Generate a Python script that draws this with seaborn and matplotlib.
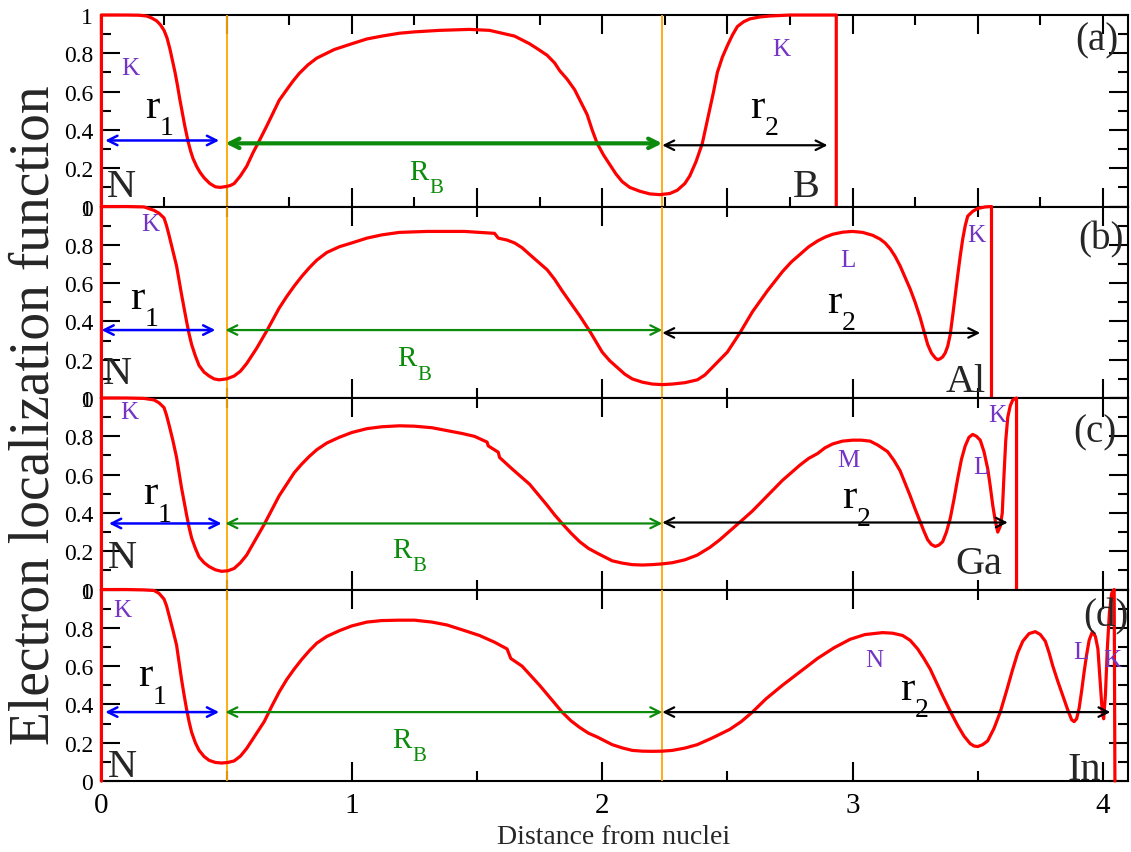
import matplotlib
matplotlib.use("Agg")
import matplotlib.pyplot as plt
from matplotlib.ticker import MultipleLocator, FuncFormatter
import pandas as pd
import seaborn as sns

# ---------------------------------------------------------------- data
# Electron localization function along the bond, nitrogen at r = 0
elf_r_BN = [0.0, 0.0, 0.10, 0.15, 0.18, 0.20, 0.22, 0.235, 0.25, 0.262, 0.274, 0.284, 0.294,
            0.304, 0.313, 0.323, 0.333, 0.346, 0.356, 0.366, 0.38, 0.393, 0.41, 0.433, 0.455,
            0.475, 0.50, 0.515, 0.53, 0.555, 0.58, 0.605, 0.633, 0.66, 0.686, 0.71, 0.74, 0.765,
            0.79, 0.825, 0.86, 0.93, 1.0, 1.06, 1.12, 1.19, 1.25, 1.35, 1.47, 1.55, 1.60, 1.65,
            1.68, 1.71, 1.74, 1.78, 1.81, 1.83, 1.86, 1.89, 1.915, 1.94, 1.96, 1.98, 2.005, 2.03,
            2.055, 2.08, 2.11, 2.15, 2.19, 2.23, 2.27, 2.30, 2.33, 2.35, 2.375, 2.40, 2.415, 2.43,
            2.445, 2.46, 2.48, 2.50, 2.52, 2.54, 2.565, 2.59, 2.63, 2.67, 2.75, 2.935, 2.935]
elf_BN = [0.0, 1.0, 1.0, 0.999, 0.995, 0.985, 0.97, 0.95, 0.92, 0.88, 0.82, 0.76, 0.70,
          0.63, 0.56, 0.49, 0.42, 0.34, 0.29, 0.25, 0.21, 0.18, 0.15, 0.12, 0.103,
          0.10, 0.105, 0.11, 0.12, 0.16, 0.21, 0.28, 0.35, 0.42, 0.49, 0.555, 0.61, 0.655,
          0.695, 0.74, 0.775, 0.82, 0.85, 0.875, 0.89, 0.905, 0.912, 0.92, 0.925, 0.92, 0.905, 0.89,
          0.87, 0.85, 0.825, 0.79, 0.75, 0.71, 0.665, 0.61, 0.545, 0.48, 0.40, 0.33, 0.27, 0.22,
          0.17, 0.13, 0.10, 0.08, 0.066, 0.062, 0.068, 0.085, 0.12, 0.16, 0.235, 0.33, 0.42, 0.51,
          0.60, 0.70, 0.78, 0.84, 0.895, 0.94, 0.965, 0.98, 0.99, 0.995, 1.0, 1.0, 0.0]

elf_r_AlN = [0.0, 0.0, 0.10, 0.17, 0.21, 0.23, 0.25, 0.26, 0.27, 0.285, 0.30, 0.31, 0.32, 0.33,
             0.34, 0.35, 0.36, 0.375, 0.39, 0.41, 0.43, 0.45, 0.47, 0.50, 0.53, 0.555, 0.58, 0.62,
             0.66, 0.685, 0.71, 0.74, 0.77, 0.80, 0.83, 0.86, 0.90, 0.95, 1.0, 1.06, 1.12, 1.19,
             1.30, 1.45, 1.57, 1.585, 1.62, 1.65, 1.68, 1.71, 1.745, 1.78, 1.81, 1.84, 1.875, 1.91,
             1.95, 1.975, 2.00, 2.03, 2.06, 2.09, 2.12, 2.16, 2.20, 2.24, 2.28, 2.33, 2.38, 2.41,
             2.44, 2.47, 2.50, 2.525, 2.55, 2.575, 2.60, 2.63, 2.66, 2.69, 2.72, 2.755, 2.79,
             2.825, 2.86, 2.89, 2.92, 2.96, 3.00, 3.04, 3.08, 3.11, 3.13, 3.15, 3.17, 3.19, 3.21,
             3.23, 3.25, 3.27, 3.285, 3.30, 3.315, 3.33, 3.34, 3.35, 3.36, 3.37, 3.38, 3.39, 3.40,
             3.41, 3.42, 3.43, 3.44, 3.45, 3.46, 3.48, 3.50, 3.53, 3.555, 3.555]
elf_AlN = [0.0, 1.0, 1.0, 0.998, 0.98, 0.965, 0.94, 0.90, 0.85, 0.77, 0.69, 0.615, 0.54, 0.47,
           0.40, 0.335, 0.28, 0.22, 0.17, 0.135, 0.115, 0.10, 0.095, 0.10, 0.115, 0.14, 0.18, 0.26,
           0.35, 0.41, 0.47, 0.53, 0.585, 0.635, 0.68, 0.72, 0.76, 0.79, 0.81, 0.835, 0.852, 0.865,
           0.87, 0.87, 0.86, 0.835, 0.825, 0.81, 0.785, 0.75, 0.71, 0.67, 0.62, 0.56, 0.495, 0.43,
           0.35, 0.295, 0.24, 0.195, 0.16, 0.125, 0.10, 0.083, 0.073, 0.07, 0.073, 0.08, 0.095,
           0.12, 0.16, 0.20, 0.24, 0.29, 0.34, 0.395, 0.45, 0.505, 0.56, 0.61, 0.66, 0.71, 0.75,
           0.79, 0.82, 0.84, 0.855, 0.866, 0.87, 0.865, 0.85, 0.83, 0.81, 0.78, 0.74, 0.69, 0.63,
           0.57, 0.50, 0.42, 0.35, 0.28, 0.235, 0.21, 0.20, 0.205, 0.215, 0.235, 0.27, 0.33, 0.43,
           0.535, 0.64, 0.74, 0.83, 0.90, 0.95, 0.975, 0.99, 0.998, 1.0, 0.0]

elf_r_GaN = [0.0, 0.0, 0.10, 0.17, 0.21, 0.23, 0.25, 0.26, 0.27, 0.285, 0.30, 0.31, 0.32, 0.33,
             0.34, 0.35, 0.36, 0.375, 0.39, 0.41, 0.43, 0.455, 0.48, 0.505, 0.53, 0.555, 0.58,
             0.615, 0.65, 0.68, 0.71, 0.74, 0.77, 0.80, 0.83, 0.86, 0.90, 0.95, 1.0, 1.06, 1.12,
             1.19, 1.25, 1.32, 1.38, 1.44, 1.49, 1.54, 1.545, 1.585, 1.59, 1.615, 1.64, 1.675,
             1.71, 1.745, 1.78, 1.81, 1.84, 1.875, 1.91, 1.945, 1.98, 2.01, 2.04, 2.08, 2.12, 2.16,
             2.20, 2.24, 2.28, 2.33, 2.38, 2.43, 2.47, 2.505, 2.54, 2.57, 2.60, 2.63, 2.66, 2.69,
             2.72, 2.755, 2.79, 2.825, 2.86, 2.89, 2.92, 2.96, 3.00, 3.035, 3.07, 3.10, 3.14, 3.165,
             3.19, 3.21, 3.23, 3.25, 3.27, 3.285, 3.30, 3.315, 3.33, 3.345, 3.36, 3.375, 3.39,
             3.405, 3.42, 3.435, 3.45, 3.465, 3.48, 3.495, 3.51, 3.525, 3.54, 3.55, 3.56, 3.57,
             3.58, 3.59, 3.598, 3.605, 3.612, 3.62, 3.63, 3.64, 3.655, 3.655]
elf_GaN = [0.0, 1.0, 1.0, 0.998, 0.99, 0.975, 0.95, 0.91, 0.86, 0.78, 0.69, 0.61, 0.53, 0.46,
           0.39, 0.325, 0.27, 0.215, 0.17, 0.14, 0.12, 0.103, 0.095, 0.098, 0.11, 0.14, 0.18,
           0.26, 0.34, 0.415, 0.49, 0.55, 0.61, 0.655, 0.695, 0.73, 0.765, 0.795, 0.82, 0.84, 0.85,
           0.855, 0.853, 0.845, 0.83, 0.815, 0.80, 0.77, 0.75, 0.717, 0.69, 0.66, 0.63, 0.59,
           0.55, 0.495, 0.44, 0.39, 0.345, 0.295, 0.25, 0.215, 0.19, 0.17, 0.15, 0.138, 0.13, 0.128,
           0.13, 0.134, 0.14, 0.155, 0.18, 0.22, 0.26, 0.30, 0.34, 0.375, 0.41, 0.45, 0.49, 0.53,
           0.57, 0.61, 0.65, 0.685, 0.71, 0.74, 0.76, 0.775, 0.78, 0.78, 0.775, 0.755, 0.72, 0.675,
           0.62, 0.555, 0.49, 0.42, 0.355, 0.305, 0.26, 0.235, 0.225, 0.232, 0.25, 0.30, 0.37,
           0.47, 0.58, 0.68, 0.75, 0.795, 0.81, 0.80, 0.78, 0.72, 0.63, 0.54, 0.44, 0.36,
           0.30, 0.33, 0.40, 0.60, 0.78, 0.90, 0.96, 0.99, 1.0, 0.0]

elf_r_InN = [0.0, 0.0, 0.10, 0.17, 0.21, 0.23, 0.25, 0.26, 0.27, 0.285, 0.30, 0.31, 0.32, 0.33,
             0.34, 0.35, 0.36, 0.375, 0.39, 0.41, 0.43, 0.455, 0.48, 0.505, 0.53, 0.555, 0.58,
             0.615, 0.65, 0.68, 0.71, 0.74, 0.77, 0.80, 0.83, 0.86, 0.90, 0.95, 1.0, 1.06, 1.12,
             1.19, 1.25, 1.32, 1.38, 1.44, 1.51, 1.57, 1.62, 1.635, 1.68, 1.715, 1.75, 1.795, 1.84,
             1.875, 1.91, 1.945, 1.98, 2.01, 2.04, 2.08, 2.12, 2.16, 2.20, 2.24, 2.28, 2.33, 2.38,
             2.44, 2.51, 2.555, 2.60, 2.655, 2.72, 2.79, 2.86, 2.925, 2.99, 3.05, 3.12, 3.16, 3.20,
             3.23, 3.26, 3.285, 3.31, 3.335, 3.36, 3.39, 3.42, 3.445, 3.47, 3.485, 3.50, 3.52, 3.54,
             3.565, 3.59, 3.615, 3.64, 3.66, 3.68, 3.705, 3.73, 3.75, 3.77, 3.785, 3.80, 3.82, 3.84,
             3.86, 3.875, 3.885, 3.895, 3.905, 3.915, 3.925, 3.935, 3.945, 3.958, 3.97, 3.98, 3.99,
             3.998, 4.003, 4.01, 4.018, 4.026, 4.035, 4.045, 4.048]
elf_InN = [0.0, 1.0, 1.0, 0.998, 0.995, 0.98, 0.95, 0.915, 0.865, 0.79, 0.71, 0.62, 0.53, 0.45,
           0.375, 0.31, 0.255, 0.20, 0.16, 0.128, 0.108, 0.097, 0.094, 0.097, 0.105, 0.13, 0.17,
           0.24, 0.31, 0.39, 0.465, 0.53, 0.585, 0.635, 0.68, 0.72, 0.755, 0.785, 0.81, 0.83, 0.838,
           0.84, 0.84, 0.83, 0.815, 0.79, 0.76, 0.725, 0.69, 0.64, 0.60, 0.55, 0.50, 0.43, 0.36,
           0.315, 0.28, 0.25, 0.23, 0.21, 0.19, 0.173, 0.16, 0.156, 0.155, 0.156, 0.16, 0.172, 0.19,
           0.225, 0.27, 0.31, 0.36, 0.43, 0.50, 0.57, 0.64, 0.695, 0.74, 0.765, 0.775, 0.772, 0.76,
           0.735, 0.69, 0.64, 0.585, 0.515, 0.445, 0.365, 0.29, 0.235, 0.195, 0.183, 0.18, 0.19,
           0.21, 0.275, 0.36, 0.47, 0.585, 0.67, 0.73, 0.77, 0.78, 0.765, 0.73, 0.67, 0.60, 0.52,
           0.445, 0.37, 0.32, 0.31, 0.325, 0.38, 0.47, 0.57, 0.66, 0.735, 0.78, 0.755, 0.69, 0.50,
           0.35, 0.325, 0.45, 0.70, 0.88, 0.98, 1.0, 0.0]

curves = [(elf_r_BN, elf_BN), (elf_r_AlN, elf_AlN), (elf_r_GaN, elf_GaN), (elf_r_InN, elf_InN)]

# bond boundaries (N core radius, B-N bond end) and radial extents
r1_start = [0.015, 0.0, 0.03, 0.015]
r1_end = [0.47, 0.455, 0.48, 0.47]
bond_start = 0.5
bond_end = 2.24
r2_end = [2.90, 3.51, 3.62, 4.03]

panel_tags = ["(a)", "(b)", "(c)", "(d)"]
cations = ["B", "Al", "Ga", "In"]

# ---------------------------------------------------------------- layout / styling
blue_y = [0.345, 0.355, 0.345, 0.36]
green_y = [0.33, 0.355, 0.345, 0.36]
black_y = [0.32, 0.34, 0.35, 0.36]
green_lw = [3.0, 1.6, 1.6, 1.6]

PURPLE = "#7434c4"
GREEN = "#0b8a0b"

# shell labels anchored at left / baseline
shell_labels = [
    [("K", 0.08, 0.69), ("K", 2.68, 0.79)],
    [("K", 0.16, 0.875), ("L", 2.95, 0.69), ("K", 3.46, 0.82)],
    [("K", 0.074, 0.895), ("M", 2.94, 0.645), ("L", 3.48, 0.61), ("K", 3.54, 0.88)],
    [("K", 0.047, 0.864), ("N", 3.05, 0.60), ("L", 3.88, 0.64), ("K", 4.00, 0.60)],
]
n_pos = [(0.022, 0.057), (0.007, 0.078), (0.027, 0.12), (0.027, 0.026)]
r1_pos = [(0.175, 0.47), (0.115, 0.47), (0.167, 0.45), (0.147, 0.50)]
rb_pos = [(1.23, 0.146), (1.18, 0.17), (1.16, 0.17), (1.16, 0.18)]
r2_pos = [(2.59, 0.47), (2.90, 0.45), (2.96, 0.43), (3.19, 0.43)]
cation_pos = [(2.76, 0.057), (3.37, 0.036), (3.41, 0.084), (3.86, 0.01)]
tag_pos = [(3.89, 0.82), (3.90, 0.78), (3.88, 0.775), (3.92, 0.81)]

sns.set_theme(style="ticks")
plt.rcParams.update({
    "font.family": ["Liberation Serif", "DejaVu Serif"],
    "axes.linewidth": 1.5,
    "axes.edgecolor": "black",
    "xtick.color": "black",
    "ytick.color": "black",
    "axes.facecolor": "white",
})

fig, axes = plt.subplots(4, 1, figsize=(11.31, 8.53), dpi=100)
fig.subplots_adjust(left=0.0897, right=0.9973, top=0.9812, bottom=0.0832, hspace=0)


def arrow(ax, x0, x1, y, color, lw):
    ax.annotate("", xy=(x1, y), xytext=(x0, y),
                arrowprops=dict(arrowstyle="<->", color=color, lw=lw,
                                shrinkA=0, shrinkB=0, mutation_scale=17),
                zorder=5)


def subscripted(ax, pos, main, sub, size, sub_size, dx, dy, color="black"):
    ax.text(pos[0], pos[1], main, fontsize=size, color=color,
            ha="left", va="baseline", zorder=6)
    ax.annotate(sub, xy=pos, xytext=(dx, dy), textcoords="offset points",
                fontsize=sub_size, color=color, ha="left", va="baseline", zorder=6)


for i, ax in enumerate(axes):
    xs, ys = curves[i]
    df = pd.DataFrame({"r": xs, "elf": ys})
    sns.lineplot(data=df, x="r", y="elf", ax=ax, color="red", lw=2.3,
                 sort=False, estimator=None, zorder=4)
    for ln in ax.lines:
        ln.set_clip_on(False)
        ln.set_solid_joinstyle("round")

    for xb in (bond_start, bond_end):
        ax.axvline(xb, color="#ffa500", lw=1.3, zorder=3)

    arrow(ax, r1_start[i], r1_end[i], blue_y[i], "blue", 1.8)
    arrow(ax, bond_start - 0.005, bond_end, green_y[i], GREEN, green_lw[i])
    arrow(ax, bond_end, r2_end[i], black_y[i], "black", 1.6)

    for txt, tx, ty in shell_labels[i]:
        ax.text(tx, ty, txt, color=PURPLE, fontsize=18, ha="left", va="baseline", zorder=6)
    ax.text(*n_pos[i], "N", fontsize=29, ha="left", va="baseline", zorder=6)
    subscripted(ax, r1_pos[i], "r", "1", 31, 20, 10.5, -12.5)
    subscripted(ax, r2_pos[i], "r", "2", 31, 20, 10.5, -12.5)
    subscripted(ax, rb_pos[i], "R", "B", 21, 15, 14.5, -9.5, color=GREEN)
    ax.text(*cation_pos[i], cations[i], fontsize=29, ha="left", va="baseline", zorder=6)
    ax.text(*tag_pos[i], panel_tags[i], fontsize=28, ha="left", va="baseline", zorder=6)

    ax.set_xlim(0, 4.1)
    ax.set_ylim(0, 1)
    ax.set_xlabel("")
    ax.set_ylabel("")
    ax.grid(False)

    ax.yaxis.set_major_locator(MultipleLocator(0.2))
    ax.yaxis.set_minor_locator(MultipleLocator(0.1))
    ax.yaxis.set_major_formatter(FuncFormatter(lambda v, p: f"{v:g}"))
    if i == 0:
        ax.xaxis.set_major_locator(MultipleLocator(0.5))
        ax.xaxis.set_minor_locator(MultipleLocator(0.25))
    else:
        ax.xaxis.set_major_locator(MultipleLocator(1.0))
        ax.xaxis.set_minor_locator(MultipleLocator(0.5))
    ax.xaxis.set_major_formatter(FuncFormatter(lambda v, p: f"{v:g}"))

    ax.tick_params(which="both", direction="in", top=True, right=True, width=1.5)
    ax.tick_params(which="major", length=14)
    ax.tick_params(which="minor", length=7)
    ax.tick_params(axis="y", labelsize=17, pad=6)
    ax.tick_params(axis="x", labelsize=21, pad=8)
    if i < 3:
        ax.tick_params(axis="x", labelbottom=False)
    for sp in ax.spines.values():
        sp.set_visible(True)
        sp.set_linewidth(1.5)
        sp.set_zorder(2.5)

fig.text(35 / 1131, 1 - 415 / 853, "Electron localization function", fontsize=40,
         rotation=90, ha="center", va="center")
fig.text(614 / 1131, 1 - 838 / 853, "Distance from nuclei", fontsize=20,
         ha="center", va="center")

fig.savefig("out.png", dpi=100, facecolor="white")
